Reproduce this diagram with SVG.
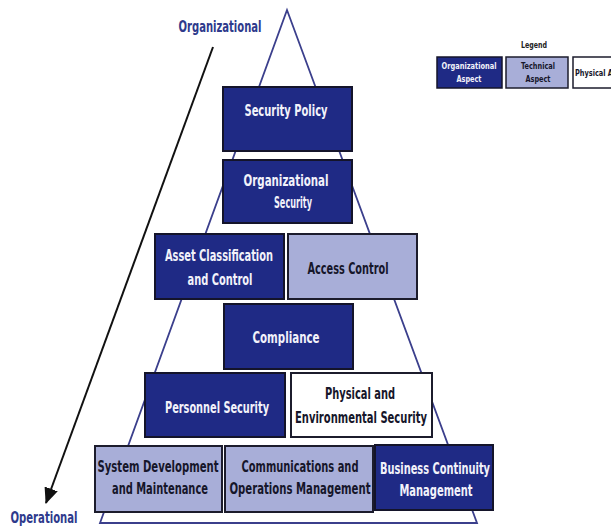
<svg xmlns="http://www.w3.org/2000/svg" width="611" height="528" viewBox="0 0 611 528">
  <style>
    text { font-family: "Liberation Sans Narrow", "DejaVu Sans Condensed", "Liberation Sans", sans-serif; font-weight: bold; text-anchor: middle; }
    .org rect { fill: #1f2a85; stroke: #14142a; stroke-width: 2; }
    .org text { fill: #f2f2fa; font-size: 16px; }
    .tech rect { fill: #a8aed8; stroke: #1c1c2c; stroke-width: 2; }
    .tech text { fill: #16162a; font-size: 16px; }
    .phys rect { fill: #ffffff; stroke: #1c1c2c; stroke-width: 2; }
    .phys text { fill: #16162a; font-size: 16px; }
    .axis { fill: #2e3a8c; font-size: 16px; }
    .legend text { font-size: 8px; }
    .legend .org text, .legend .tech text, .legend .phys text { font-size: 8px; }
    .legend rect { stroke-width: 1.5; }
  </style>
  <defs>
    <marker id="arrowHead" markerWidth="16" markerHeight="14" refX="15" refY="7" orient="auto" markerUnits="userSpaceOnUse" viewBox="0 0 16 14">
      <path d="M0,0 L16,7 L0,14 Z" fill="#111"/>
    </marker>
  </defs>

  <!-- pyramid outline -->
  <g id="pyramid">
    <path d="M287,10 L100,523 L477,523 Z" fill="none" stroke="#3b3f8c" stroke-width="1.8" stroke-linejoin="miter"/>
  </g>

  <!-- direction axis -->
  <g id="connectors">
    <line x1="213" y1="47" x2="46" y2="503" stroke="#111" stroke-width="2" marker-end="url(#arrowHead)"/>
  </g>
  <text class="axis" x="220" y="32" textLength="83" lengthAdjust="spacingAndGlyphs">Organizational</text>
  <text class="axis" x="44" y="523" textLength="67" lengthAdjust="spacingAndGlyphs">Operational</text>

  <!-- layer boxes -->
  <g id="security-policy" class="org">
    <rect x="223" y="87" width="129" height="64"/>
    <text x="286" y="116" textLength="83" lengthAdjust="spacingAndGlyphs">Security Policy</text>
  </g>
  <g id="organizational-security" class="org">
    <rect x="223" y="160" width="129" height="63"/>
    <text x="286" y="186" textLength="85" lengthAdjust="spacingAndGlyphs">Organizational</text>
    <text x="293" y="208" textLength="38" lengthAdjust="spacingAndGlyphs">Security</text>
  </g>
  <g id="asset-classification" class="org">
    <rect x="155" y="234" width="129" height="65"/>
    <text x="219" y="261" textLength="108" lengthAdjust="spacingAndGlyphs">Asset Classification</text>
    <text x="220" y="285" textLength="65" lengthAdjust="spacingAndGlyphs">and Control</text>
  </g>
  <g id="access-control" class="tech">
    <rect x="288" y="234" width="129" height="65"/>
    <text x="348" y="274" textLength="81" lengthAdjust="spacingAndGlyphs">Access Control</text>
  </g>
  <g id="compliance" class="org">
    <rect x="224" y="304" width="129" height="65"/>
    <text x="286" y="343" textLength="67" lengthAdjust="spacingAndGlyphs">Compliance</text>
  </g>
  <g id="personnel-security" class="org">
    <rect x="145" y="373" width="140" height="64"/>
    <text x="217" y="413" textLength="104" lengthAdjust="spacingAndGlyphs">Personnel Security</text>
  </g>
  <g id="physical-security" class="phys">
    <rect x="291" y="373" width="141" height="64"/>
    <text x="360" y="399" textLength="70" lengthAdjust="spacingAndGlyphs">Physical and</text>
    <text x="361" y="423" textLength="132" lengthAdjust="spacingAndGlyphs">Environmental Security</text>
  </g>
  <g id="system-development" class="tech">
    <rect x="95" y="446" width="127" height="66"/>
    <text x="158" y="472" textLength="121" lengthAdjust="spacingAndGlyphs">System Development</text>
    <text x="160" y="494" textLength="96" lengthAdjust="spacingAndGlyphs">and Maintenance</text>
  </g>
  <g id="communications-operations" class="tech">
    <rect x="225" y="446" width="148" height="66"/>
    <text x="300" y="472" textLength="117" lengthAdjust="spacingAndGlyphs">Communications and</text>
    <text x="300" y="494" textLength="141" lengthAdjust="spacingAndGlyphs">Operations Management</text>
  </g>
  <g id="business-continuity" class="org">
    <rect x="375" y="445" width="118" height="65"/>
    <text x="435" y="474" textLength="110" lengthAdjust="spacingAndGlyphs">Business Continuity</text>
    <text x="436" y="496" textLength="73" lengthAdjust="spacingAndGlyphs">Management</text>
  </g>

  <!-- legend -->
  <g id="legend" class="legend">
    <text x="534" y="48" fill="#222" textLength="26" lengthAdjust="spacingAndGlyphs">Legend</text>
    <g id="legend-organizational" class="org">
      <rect x="437" y="57" width="65" height="31"/>
      <text x="469" y="69" textLength="55" lengthAdjust="spacingAndGlyphs">Organizational</text>
      <text x="469" y="82" textLength="25" lengthAdjust="spacingAndGlyphs">Aspect</text>
    </g>
    <g id="legend-technical" class="tech">
      <rect x="506" y="57" width="62" height="31"/>
      <text x="538" y="69" textLength="34" lengthAdjust="spacingAndGlyphs">Technical</text>
      <text x="538" y="82" textLength="25" lengthAdjust="spacingAndGlyphs">Aspect</text>
    </g>
    <g id="legend-physical" class="phys">
      <rect x="573" y="57" width="60" height="31"/>
      <text x="604" y="76" textLength="58" lengthAdjust="spacingAndGlyphs">Physical Aspect</text>
    </g>
  </g>
</svg>
